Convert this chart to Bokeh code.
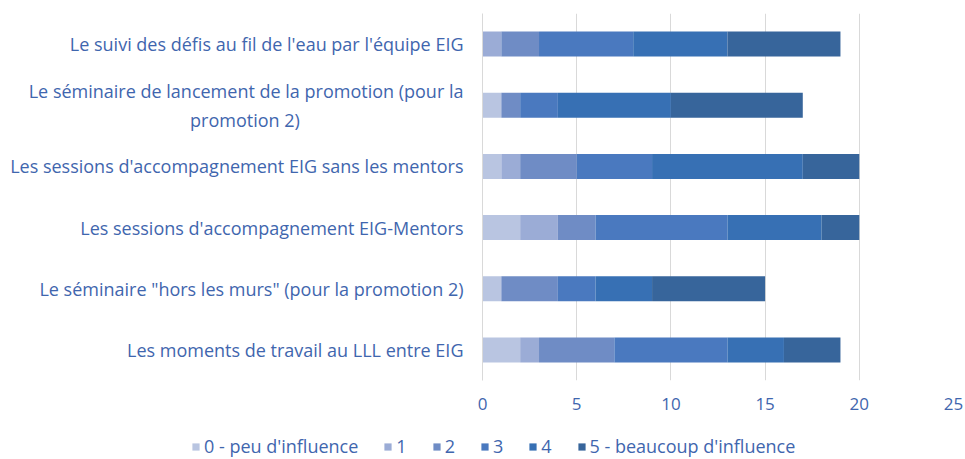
from bokeh.plotting import figure
from bokeh.models import ColumnDataSource, Legend, LegendItem, Range1d, FactorRange
from bokeh.layouts import column
from bokeh.embed import file_html
from bokeh.resources import INLINE

NB = "\u00a0"
categories = [
    "Le suivi des défis au fil de l'eau par l'équipe EIG",
    "Le séminaire de lancement de la promotion (pour la\npromotion 2)" + NB * 35,
    "Les sessions d'accompagnement EIG sans les mentors",
    "Les sessions d'accompagnement EIG-Mentors",
    "Le séminaire \"hors les murs\" (pour la promotion 2)",
    "Les moments de travail au LLL entre EIG",
]
series_names = ["0 - peu d'influence", "1", "2", "3", "4", "5 - beaucoup d'influence"]
s0 = [0, 1, 1, 2, 1, 2]
s1 = [1, 0, 1, 2, 0, 1]
s2 = [2, 1, 3, 2, 3, 4]
s3 = [5, 2, 4, 7, 2, 6]
s4 = [5, 6, 8, 5, 3, 3]
s5 = [6, 7, 3, 2, 6, 3]
x_ticks = [0, 5, 10, 15, 20, 25]

colors = ["#B9C5E1", "#9BACD6", "#6F8CC5", "#4A79BF", "#3770B4", "#37659B"]
text_color = "#3F66AE"
font = "Open Sans"
fsize = "18px"

keys = ["s0", "s1", "s2", "s3", "s4", "s5"]
data = dict(cat=categories, s0=s0, s1=s1, s2=s2, s3=s3, s4=s4, s5=s5)
src = ColumnDataSource(data)

p = figure(width=964, height=420, output_backend="svg", toolbar_location=None,
           y_range=FactorRange(*list(reversed(categories)), range_padding=0),
           x_range=Range1d(0, 25),
           min_border_left=482, min_border_right=11, min_border_top=13,
           min_border_bottom=40,
           outline_line_color=None)

renderers = p.hbar_stack(keys, y="cat", height=0.41, color=colors, source=src,
                         line_color=None)

p.xgrid.grid_line_color = "#D9D9D9"
p.ygrid.grid_line_color = None
p.xaxis.ticker = x_ticks
p.xaxis.axis_line_color = None
p.xaxis.major_tick_line_color = None
p.xaxis.minor_tick_line_color = None
p.xaxis.major_tick_out = 0
p.xaxis.major_label_standoff = 17
p.yaxis.axis_line_color = "#D9D9D9"
p.yaxis.major_tick_line_color = None
p.yaxis.minor_tick_line_color = None
p.yaxis.major_tick_out = 0
p.yaxis.major_label_standoff = 19
for ax in (p.xaxis[0], p.yaxis[0]):
    ax.major_label_text_color = text_color
    ax.major_label_text_font = font
    ax.major_label_text_font_size = fsize
p.xaxis.major_label_text_font_size = "17px"

# legend strip below the chart (bars of the same data, drawn off-range)
p2 = figure(width=964, height=38, output_backend="svg", toolbar_location=None,
            x_axis_location=None, y_axis_location=None,
            y_range=FactorRange(*categories), x_range=Range1d(-3, -2),
            min_border_left=0, min_border_right=0, min_border_top=0,
            min_border_bottom=0, outline_line_color=None)
try:
    p2.frame_align = False
except Exception:
    pass
p2.grid.grid_line_color = None
legend_renderers = p2.hbar_stack(keys, y="cat", height=0.41, color=colors,
                                 source=src, line_color=None)

items = [LegendItem(label=n, renderers=[r]) for n, r in zip(series_names, legend_renderers)]
legend = Legend(items=items, orientation="horizontal", location=(191, 0),
                label_text_font=font, label_text_font_size=fsize,
                label_text_color=text_color, glyph_width=9, glyph_height=9,
                label_width=0, spacing=25, label_standoff=4,
                border_line_color=None,
                background_fill_alpha=0, padding=2, margin=0)
p2.add_layout(legend, "center")

layout = column(p, p2, spacing=0)
open("out.html", "w").write(file_html(layout, INLINE))
